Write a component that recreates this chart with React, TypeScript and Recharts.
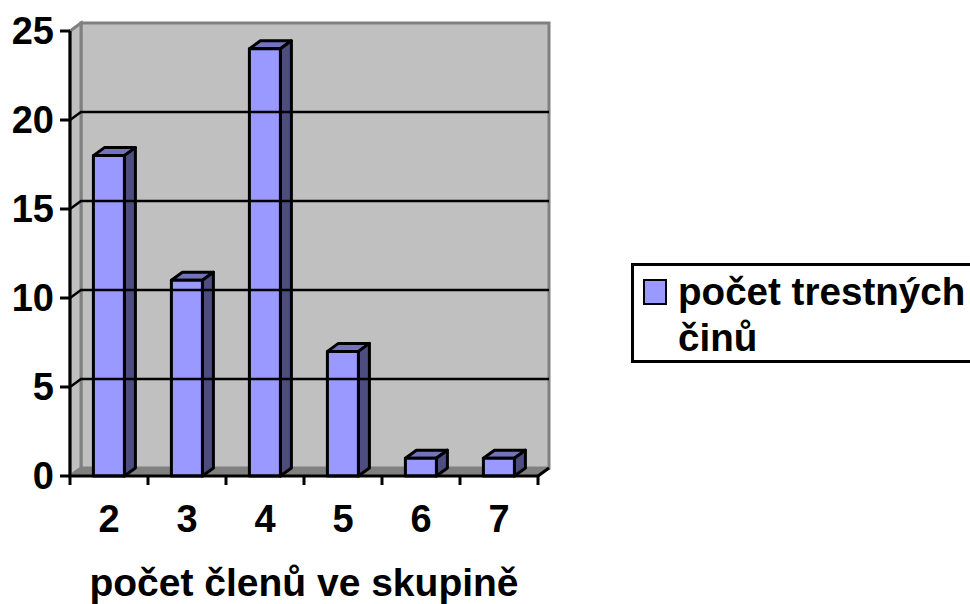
import { BarChart, Bar, XAxis, YAxis, ReferenceArea, ReferenceLine, Legend } from "recharts";

// values
const groupSizes = ["2", "3", "4", "5", "6", "7"];
const crimeCounts = [18, 11, 24, 7, 1, 1];
const yTicks = [0, 5, 10, 15, 20, 25];
const gridValues = [5, 10, 15, 20];

const seriesName = "počet trestných činů";
const axisTitle = "počet členů ve skupině";

const chartData = groupSizes.map((size, i) => ({ size, count: crimeCounts[i] }));

const DX = 11;
const DY = 8;
const FONT = "'Liberation Sans', Arial, sans-serif";

// extruded bar, front face comes from the library's scale
function Bar3D({ x, y, width, height }: any) {
  const r = x + width;
  const b = y + height;
  return (
    <g stroke="#000" strokeWidth={3} strokeLinejoin="round">
      <polygon points={`${x},${y} ${x + DX},${y - DY} ${r + DX},${y - DY} ${r},${y}`} fill="#7373bf" />
      <polygon points={`${r},${y} ${r + DX},${y - DY} ${r + DX},${b - DY} ${r},${b}`} fill="#4d4d80" />
      <rect x={x} y={y} width={width} height={height} fill="#9999ff" />
    </g>
  );
}

// back wall, side wall and floor
function Walls({ x, y, width, height }: any) {
  const r = x + width;
  const b = y + height;
  return (
    <g>
      <polygon
        points={`${x + DX},${y - DY} ${r + DX},${y - DY} ${r + DX},${b - DY} ${x + DX},${b - DY}`}
        fill="#c0c0c0"
        stroke="#808080"
        strokeWidth={3}
      />
      <polygon
        points={`${x},${y} ${x + DX},${y - DY} ${x + DX},${b - DY} ${x},${b}`}
        fill="#c0c0c0"
        stroke="#808080"
        strokeWidth={3}
      />
      <polygon points={`${x},${b} ${x + DX},${b - DY} ${r + DX},${b - DY} ${r},${b}`} fill="#808080" />
      <line x1={r} y1={b} x2={r + DX} y2={b - DY} stroke="#000" strokeWidth={3} />
    </g>
  );
}

// gridline on the back wall plus its short slant to the axis
function GridLine({ x1, y1, x2, y2 }: any) {
  return (
    <polyline
      points={`${x1},${y1} ${x1 + DX},${y1 - DY} ${x2 + DX},${y2 - DY}`}
      fill="none"
      stroke="#000"
      strokeWidth={2.5}
    />
  );
}

// Excel puts the tick marks between the categories, not under them
function CategoryTick({ x, y, payload, index, width, visibleTicksCount }: any) {
  const band = width / visibleTicksCount;
  return (
    <g>
      <line x1={x - band / 2} y1={y} x2={x - band / 2} y2={y + 9} stroke="#000" strokeWidth={3} />
      {index === visibleTicksCount - 1 && (
        <line x1={x + band / 2} y1={y} x2={x + band / 2} y2={y + 9} stroke="#000" strokeWidth={3} />
      )}
      <text x={x} y={y + 56} textAnchor="middle" fontSize={38} fontWeight="bold" fontFamily={FONT} fill="#000">
        {payload.value}
      </text>
    </g>
  );
}

function LegendBox({ payload }: any) {
  const item = payload?.[0];
  return (
    <div
      style={{
        boxSizing: "border-box",
        width: 345,
        height: 100,
        border: "3px solid #000",
        background: "#fff",
        position: "relative",
        fontFamily: FONT,
        fontWeight: "bold",
        fontSize: 38.6,
        lineHeight: "46px",
        color: "#000",
      }}
    >
      <span
        style={{
          position: "absolute",
          left: 9,
          top: 13,
          width: 24,
          height: 26,
          boxSizing: "border-box",
          background: item?.color,
          border: "2px solid #000",
        }}
      />
      <div style={{ position: "absolute", left: 44, top: 3, width: 298 }}>{item?.value}</div>
    </div>
  );
}

export default function App() {
  return (
    <div style={{ position: "absolute", left: 0, top: 0, width: 970, height: 604, overflow: "hidden", background: "#fff" }}>
      <BarChart
        width={970}
        height={604}
        data={chartData}
        barCategoryGap="30%"
        margin={{ top: 31, right: 432, bottom: 0, left: 0 }}
      >
        <ReferenceArea y1={0} y2={25} shape={<Walls />} fillOpacity={1} />
        {gridValues.map((v) => (
          <ReferenceLine key={v} y={v} shape={<GridLine />} />
        ))}
        <XAxis
          dataKey="size"
          height={128}
          interval={0}
          axisLine={{ stroke: "#000", strokeWidth: 3 }}
          tickLine={false}
          tickSize={0}
          tickMargin={0}
          tick={<CategoryTick />}
          label={{
            value: axisTitle,
            position: "insideBottom",
            offset: 8,
            fontSize: 39,
            fontWeight: "bold",
            fontFamily: FONT,
            fill: "#000",
          }}
        />
        <YAxis
          domain={[0, 25]}
          ticks={yTicks}
          width={70}
          interval={0}
          axisLine={{ stroke: "#000", strokeWidth: 3 }}
          tickLine={{ stroke: "#000", strokeWidth: 3 }}
          tickSize={10}
          tickMargin={6}
          tick={{ fontSize: 38, fontWeight: "bold", fontFamily: FONT, fill: "#000" }}
        />
        <Bar dataKey="count" name={seriesName} fill="#9999ff" shape={<Bar3D />} isAnimationActive={false} />
        <Legend
          layout="horizontal"
          align="center"
          verticalAlign="middle"
          content={<LegendBox />}
          wrapperStyle={{ position: "absolute", left: 631, top: 263, width: 345, height: 100 }}
        />
      </BarChart>
    </div>
  );
}
